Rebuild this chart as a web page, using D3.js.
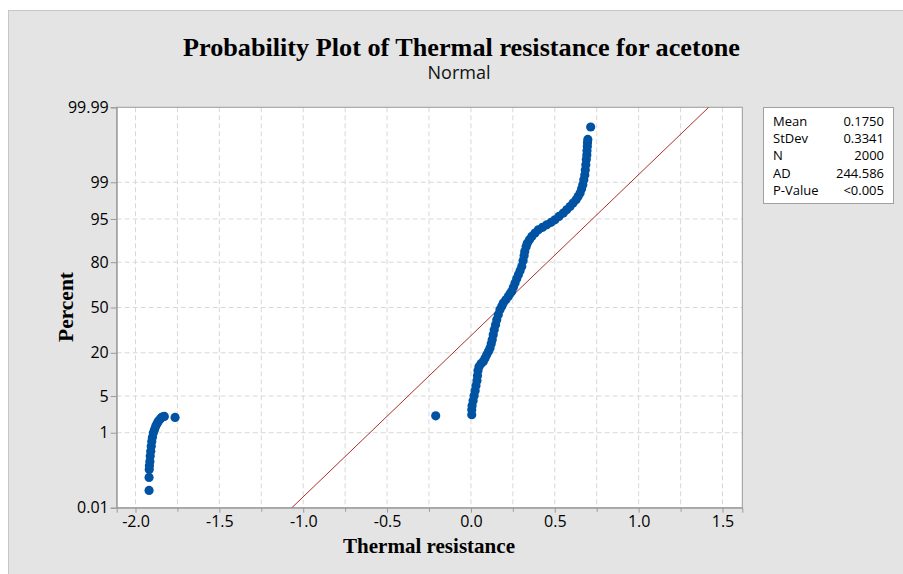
<!DOCTYPE html>
<html>
<head>
<meta charset="utf-8">
<script src="https://cdn.jsdelivr.net/npm/d3@7"></script>
<style>
  body { margin: 0; background: #fff; }
  .tick text { font-family: "Open Sans", sans-serif; fill: #000; }
</style>
</head>
<body>
<div id="chart"></div>
<script>
// values: [thermal resistance, percent]
const leftX   = [-1.919, -1.919, -1.918, -1.917, -1.914, -1.912, -1.909, -1.906, -1.903, -1.899, -1.894, -1.887, -1.880, -1.872, -1.864, -1.854, -1.844, -1.836, -1.828];
const leftPct = [0.034, 0.08, 0.13, 0.165, 0.21, 0.29, 0.38, 0.50, 0.64, 0.80, 0.99, 1.16, 1.36, 1.54, 1.72, 1.90, 2.06, 2.12, 2.15];

const mainX = [0.005, 0.005, 0.007, 0.013, 0.019, 0.025, 0.030, 0.036, 0.039, 0.042,
  0.048, 0.060, 0.074, 0.084, 0.094, 0.105, 0.114, 0.121, 0.127, 0.133,
  0.139, 0.147, 0.154, 0.163, 0.173, 0.184, 0.193, 0.208, 0.223, 0.233,
  0.243, 0.253, 0.263, 0.273, 0.283, 0.293, 0.303, 0.311, 0.317, 0.321,
  0.329, 0.336, 0.349, 0.363, 0.382, 0.402, 0.427, 0.452, 0.478, 0.501,
  0.525, 0.551, 0.571, 0.591, 0.609, 0.627, 0.639, 0.651, 0.660, 0.667,
  0.673, 0.679, 0.682, 0.685, 0.688, 0.691, 0.692, 0.694, 0.695, 0.697, 0.714];
const mainPct = [2.32, 2.88, 3.41, 4.17, 5.06, 6.10, 7.32, 8.69, 10.26, 12.02,
  13.57, 14.83, 15.82, 17.3, 19.0, 20.85, 22.6, 25.0, 27.5, 30.6,
  34.0, 37.4, 41.0, 44.7, 48.3, 50.9, 53.3, 55.7, 58.1, 60.1,
  61.7, 64.7, 67.5, 70.3, 72.8, 75.2, 77.7, 80.7, 83.2, 85.1,
  87.0, 88.4, 89.6, 90.65, 91.67, 92.56, 93.19, 93.78, 94.33, 94.84,
  95.46, 96.03, 96.52, 96.97, 97.38, 97.73, 98.04, 98.32, 98.63, 98.87,
  99.12, 99.31, 99.47, 99.60, 99.70, 99.77, 99.82, 99.86, 99.89, 99.91, 99.96];

const strayX   = [-1.764, -0.210];
const strayPct = [2.06, 2.21];

const pctTicks = [0.01, 1, 5, 20, 50, 80, 95, 99, 99.99];
const pctLabels = ["0.01", "1", "5", "20", "50", "80", "95", "99", "99.99"];
const xTicks = [-2.0, -1.5, -1.0, -0.5, 0.0, 0.5, 1.0, 1.5];
const xMinor = [-2.0, -1.75, -1.5, -1.25, -1.0, -0.75, -0.5, -0.25, 0, 0.25, 0.5, 0.75, 1.0, 1.25, 1.5];

const statNames  = ["Mean", "StDev", "N", "AD", "P-Value"];
const statValues = ["0.1750", "0.3341", "2000", "244.586", "<0.005"];
const mean = 0.1750, stdev = 0.3341;

// inverse normal cdf (Acklam)
function probit(p) {
  const a = [-39.69683028665376, 220.9460984245205, -275.9285104469687, 138.3577518672690, -30.66479806614716, 2.506628274631000];
  const b = [-54.47609879822406, 161.5858368580409, -155.6989798598866, 66.80131188771972, -13.28068155288572];
  const c = [-0.007784894002430293, -0.3223964580411365, -2.400758277161838, -2.549732539343734, 4.374664141464968, 2.938163982698783];
  const d = [0.007784695709041462, 0.3224671290700398, 2.445134137142996, 3.754408661907416];
  const lo = 0.02425;
  let q, r;
  if (p < lo) {
    q = Math.sqrt(-2 * Math.log(p));
    return (((((c[0]*q+c[1])*q+c[2])*q+c[3])*q+c[4])*q+c[5]) / ((((d[0]*q+d[1])*q+d[2])*q+d[3])*q+1);
  } else if (p <= 1 - lo) {
    q = p - 0.5; r = q * q;
    return (((((a[0]*r+a[1])*r+a[2])*r+a[3])*r+a[4])*r+a[5])*q / (((((b[0]*r+b[1])*r+b[2])*r+b[3])*r+b[4])*r+1);
  }
  q = Math.sqrt(-2 * Math.log(1 - p));
  return -(((((c[0]*q+c[1])*q+c[2])*q+c[3])*q+c[4])*q+c[5]) / ((((d[0]*q+d[1])*q+d[2])*q+d[3])*q+1);
}

const width = 903, height = 574;
const plot = { left: 116.7, right: 742.3, top: 107.3, bottom: 507.7 };

const svg = d3.select("#chart").append("svg")
  .attr("width", width).attr("height", height)
  .attr("viewBox", [0, 0, width, height]);

// grey panel
svg.append("rect")
  .attr("x", 8.5).attr("y", 10.5).attr("width", width).attr("height", height)
  .attr("fill", "#e4e4e4").attr("stroke", "#c6c6c6");

let x = d3.scaleLinear()
  .domain([-2.112, 1.618])
  .range([plot.left, plot.right]);

let zTop = probit(0.9999);
let z = d3.scaleLinear()
  .domain([-zTop, zTop])
  .range([plot.bottom, plot.top]);
const y = pct => z(probit(pct / 100));

svg.append("rect")
  .attr("x", plot.left).attr("y", plot.top)
  .attr("width", plot.right - plot.left).attr("height", plot.bottom - plot.top)
  .attr("fill", "#fff");

// grid
svg.append("g")
  .selectAll("line")
  .data(xMinor)
  .join("line")
  .attr("x1", d => x(d)).attr("x2", d => x(d))
  .attr("y1", plot.top).attr("y2", plot.bottom)
  .attr("stroke", "#d8d8d8").attr("stroke-dasharray", "5,3");

svg.append("g")
  .selectAll("line")
  .data(pctTicks.slice(1, -1))
  .join("line")
  .attr("x1", plot.left).attr("x2", plot.right)
  .attr("y1", d => y(d)).attr("y2", d => y(d))
  .attr("stroke", "#d8d8d8").attr("stroke-dasharray", "5,3");

// axes
const xAxis = svg.append("g")
  .attr("transform", `translate(0,${plot.bottom})`)
  .call(d3.axisBottom(x).tickValues(xTicks).tickSize(5).tickPadding(3));
xAxis.selectAll(".tick text").attr("font-size", 16).text(d => d3.format(".1f")(d).replace("−", "-"));

svg.append("g")
  .attr("transform", `translate(0,${plot.bottom})`)
  .call(d3.axisBottom(x).tickValues(xMinor.filter(d => !xTicks.includes(d))).tickFormat("").tickSize(4))
  .call(g => g.select(".domain").remove());

const yAxis = svg.append("g")
  .attr("transform", `translate(${plot.left},0)`)
  .call(d3.axisLeft(z).tickValues(pctTicks.map(p => probit(p / 100)))
    .tickFormat((d, i) => pctLabels[i]).tickSize(6).tickPadding(2));
yAxis.selectAll(".tick text").attr("font-size", 16);

svg.selectAll(".domain, .tick line").attr("stroke", "#9a9a9a");

svg.append("rect")
  .attr("x", plot.left).attr("y", plot.top)
  .attr("width", plot.right - plot.left).attr("height", plot.bottom - plot.top)
  .attr("fill", "none").attr("stroke", "#9a9a9a");

// fitted normal line
svg.append("clipPath").attr("id", "clip")
  .append("rect")
  .attr("x", plot.left).attr("y", plot.top)
  .attr("width", plot.right - plot.left).attr("height", plot.bottom - plot.top);

svg.append("line")
  .attr("clip-path", "url(#clip)")
  .attr("x1", x(mean - zTop * stdev)).attr("y1", z(-zTop))
  .attr("x2", x(mean + zTop * stdev)).attr("y2", z(zTop))
  .attr("stroke", "#a8302c").attr("stroke-width", 1);

// points
const pts = [];
leftX.forEach((v, i) => pts.push([v, leftPct[i]]));
mainX.forEach((v, i) => pts.push([v, mainPct[i]]));
strayX.forEach((v, i) => pts.push([v, strayPct[i]]));

svg.append("g")
  .selectAll("circle")
  .data(pts)
  .join("circle")
  .attr("cx", d => x(d[0]))
  .attr("cy", d => y(d[1]))
  .attr("r", 4.6)
  .attr("fill", "#0053a2");

// titles
svg.append("text")
  .attr("x", 461.5).attr("y", 56)
  .attr("text-anchor", "middle")
  .attr("font-family", "Liberation Serif, serif").attr("font-weight", "bold")
  .attr("font-size", 26)
  .attr("textLength", 557).attr("lengthAdjust", "spacingAndGlyphs")
  .text("Probability Plot of Thermal resistance for acetone");

svg.append("text")
  .attr("x", 459).attr("y", 79)
  .attr("text-anchor", "middle")
  .attr("font-family", "Open Sans, sans-serif")
  .attr("font-size", 18).attr("fill", "#111")
  .text("Normal");

svg.append("text")
  .attr("x", 429).attr("y", 553)
  .attr("text-anchor", "middle")
  .attr("font-family", "Liberation Serif, serif").attr("font-weight", "bold")
  .attr("font-size", 21)
  .attr("textLength", 172).attr("lengthAdjust", "spacingAndGlyphs")
  .text("Thermal resistance");

svg.append("text")
  .attr("transform", "translate(73,307) rotate(-90)")
  .attr("text-anchor", "middle")
  .attr("font-family", "Liberation Serif, serif").attr("font-weight", "bold")
  .attr("font-size", 21)
  .attr("textLength", 70).attr("lengthAdjust", "spacingAndGlyphs")
  .text("Percent");

// stats box
const box = svg.append("g");
box.append("rect")
  .attr("x", 763.5).attr("y", 107.5).attr("width", 130).attr("height", 96)
  .attr("fill", "#fff").attr("stroke", "#a0a0a0");

box.selectAll(".sn")
  .data(statNames)
  .join("text")
  .attr("x", 773).attr("y", (d, i) => 125.5 + i * 17.4)
  .attr("font-family", "Open Sans, sans-serif").attr("font-size", 13)
  .attr("fill", "#000")
  .text(d => d);

box.selectAll(".sv")
  .data(statValues)
  .join("text")
  .attr("x", 884).attr("y", (d, i) => 125.5 + i * 17.4)
  .attr("text-anchor", "end")
  .attr("font-family", "Open Sans, sans-serif").attr("font-size", 13)
  .attr("fill", "#000")
  .text(d => d);
</script>
</body>
</html>
